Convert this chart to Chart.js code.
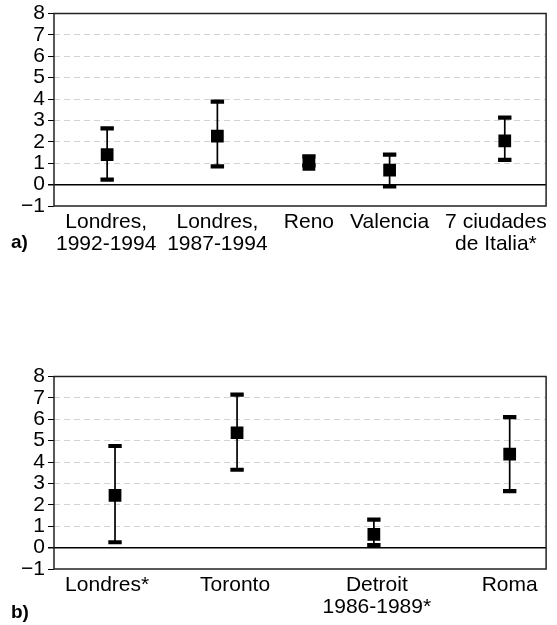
<!DOCTYPE html>
<html>
<head>
<meta charset="utf-8">
<script src="https://cdn.jsdelivr.net/npm/chart.js@4"></script>
<style>
body{margin:0;background:#fff;width:557px;height:625px;position:relative;overflow:hidden;font-family:"Liberation Sans",Arial,sans-serif}
.box{position:absolute;left:0;width:557px;height:262px}
.tag{position:absolute;left:11px;font-weight:bold;font-size:19px;line-height:20px}
</style>
</head>
<body>
<div class="box" style="top:0"><canvas id="chartA" width="557" height="262"></canvas></div>
<div class="tag" style="top:232px">a)</div>
<div class="box" style="top:363px"><canvas id="chartB" width="557" height="262"></canvas></div>
<div class="tag" style="top:602px">b)</div>
<script>
// panel a
const placesA=[['Londres,','1992-1994'],['Londres,','1987-1994'],'Reno','Valencia',['7 ciudades','de Italia*']]
const xA=[0.54,1.66,2.59,3.41,4.58]
const labelXA=[0.53,1.66,2.59,3.41,4.49]
const meanA=[1.4,2.27,0.95,0.68,2.04]
const lowA=[0.23,0.85,0.9,-0.08,1.16]
const highA=[2.63,3.88,1.32,1.4,3.13]

// panel b
const placesB=['Londres*','Toronto',['Detroit','1986-1989*'],'Roma']
const xB=[0.62,1.86,3.25,4.63]
const labelXB=[0.54,1.84,3.28,4.63]
const meanB=[2.44,5.37,0.62,4.37]
const lowB=[0.25,3.64,0.12,2.64]
const highB=[4.75,7.15,1.31,6.1]

const font={family:'Liberation Sans',size:21,lineHeight:1.05}

// black box round the plot area
const frame={
    id:'frame',
    afterDraw(chart){
        const a=chart.chartArea
        const c=chart.ctx
        c.save()
        c.strokeStyle='#222'
        c.lineWidth=1.5
        c.strokeRect(a.left,a.top,a.right-a.left,a.bottom-a.top)
        c.restore()
    }
}

function errorChart(id,places,xs,labelXs,mean,low,high){
    const whiskers=[]
    const caps=[]
    xs.forEach((x,i)=>{
        whiskers.push({x:x,y:low[i]},{x:x,y:high[i]},{x:x,y:null})
        caps.push({x:x,y:low[i]},{x:x,y:high[i]})
    })
    return new Chart(document.getElementById(id),{
        type:'scatter',
        data:{
            datasets:[
                {data:xs.map((x,i)=>({x:x,y:mean[i]})),pointStyle:'rect',pointRadius:9,
                 pointBackgroundColor:'#000',pointBorderWidth:0,order:0},
                {data:caps,pointStyle:'line',pointRadius:6.7,pointBorderColor:'#000',pointBorderWidth:4.2,order:1},
                {data:whiskers,showLine:true,spanGaps:false,pointRadius:0,borderColor:'#000',borderWidth:1.7,order:2}
            ]
        },
        options:{
            responsive:false,
            animation:false,
            layout:{padding:{top:12,right:8,left:0,bottom:0}},
            plugins:{legend:{display:false},tooltip:{enabled:false}},
            scales:{
                x:{
                    type:'linear',min:0,max:5,
                    afterBuildTicks:(s)=>{s.ticks=labelXs.map(v=>({value:v}))},
                    afterFit:(s)=>{s.height=56},
                    grid:{display:false,drawTicks:false},
                    border:{display:false},
                    ticks:{autoSkip:false,maxRotation:0,padding:5,color:'#000',font:font,
                        callback:(v,i)=>places[i]}
                },
                y:{
                    min:-1,max:8,
                    afterFit:(s)=>{s.width=54},
                    ticks:{stepSize:1,autoSkip:false,padding:3,color:'#000',
                        font:{family:'Liberation Sans',size:21,lineHeight:1},
                        callback:v=>v<0?'\u2212'+(-v):v},
                    grid:{
                        color:c=>c.tick.value===0?'#000':(c.tick.value===-1||c.tick.value===8)?'rgba(0,0,0,0)':'#d2d2d2',
                        lineWidth:c=>c.tick.value===0?1.5:1,
                        tickColor:'#000',tickLength:6
                    },
                    border:{display:false,dash:c=>c.tick&&c.tick.value===0?[]:[6,4]}
                }
            }
        },
        plugins:[frame]
    })
}

errorChart('chartA',placesA,xA,labelXA,meanA,lowA,highA)
errorChart('chartB',placesB,xB,labelXB,meanB,lowB,highB)
</script>
</body>
</html>
